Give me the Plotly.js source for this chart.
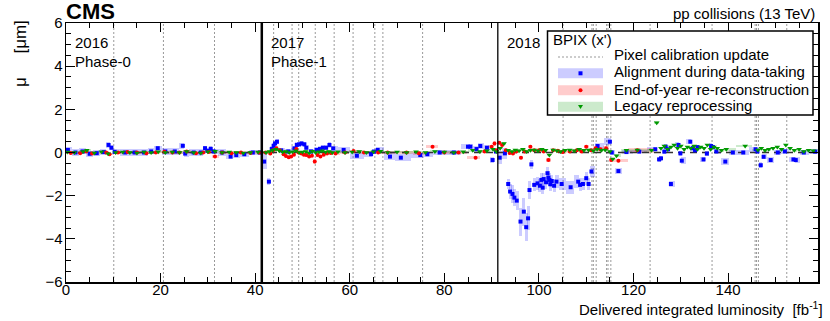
<!DOCTYPE html>
<html>
<head>
<meta charset="utf-8">
<script src="https://cdn.plot.ly/plotly-3.0.1.min.js"></script>
<style>
  html, body { margin: 0; padding: 0; background: #fff; }
  #plot { width: 830px; height: 321px; }
</style>
</head>
<body>
<div id="plot"></div>
<script>
// Year boundaries in delivered luminosity (fb^-1) and their labels
const yearEdges = [0, 41.4, 91.3, 159];
const yearNames = ['2016', '2017', '2018'];
const phaseNames = ['Phase-0', 'Phase-1', ''];

// Pixel calibration updates (fb^-1)
const calibUpdates = [10.1, 20.6, 31.4, 43.9, 47.8, 49.2, 52.7, 56.7, 60.7, 65.3, 67.0, 75.4,
  105.1, 111.2, 111.5, 112.1, 114.3, 114.6, 115.2, 123.5, 136.6, 145.7, 146.0, 146.4, 152.4];

// Alignment during data-taking (blue)
const alignLumi = [
  0.4, 2.0, 3.5, 5.0, 6.5, 8.0, 9.0, 9.6, 10.3, 12.5, 14.5, 16.5, 18.0, 19.4, 21.0, 23.0, 24.7, 25.2,
  27.0, 28.5, 29.4, 29.9, 30.6, 31.2, 33.0, 34.8, 36.0, 37.7, 39.5, 41.0,
  41.9, 42.9, 43.5, 43.9, 44.2, 44.6, 45.5, 47.0, 48.3, 48.8, 49.3, 49.8, 50.4, 50.8, 51.8, 53.0, 53.7,
  54.3, 55.0, 55.7, 56.5, 58.7, 61.5, 64.5, 65.1, 65.9, 68.5, 70.8, 74.9, 76.4, 79.0, 82.0, 85.0, 85.5,
  86.8, 87.6, 89.0, 90.2, 90.9,
  91.7, 92.8, 93.5, 93.9, 94.4, 94.8, 95.3, 96.1, 96.8, 97.3, 97.7, 98.0, 98.4, 99.0, 99.7, 100.2,
  100.5, 100.8, 101.0, 101.5, 101.8, 102.0, 102.2, 102.4, 102.7, 103.2, 103.7, 104.8, 106.7, 108.3,
  108.7, 109.3, 110.0, 110.5, 111.1, 112.4, 115.0, 115.4, 116.8, 118.5, 121.2, 124.6, 125.4, 125.8, 126.5,
  126.8, 127.3, 127.9, 129.5, 129.9, 130.2, 132.0, 132.5, 133.0, 133.5, 134.8, 135.5, 136.4, 136.8,
  137.5, 139.4, 141.0, 143.2, 145.8, 146.2, 146.9, 147.5, 149.0, 150.5, 152.0, 153.8, 154.3, 156.0, 158.4];
const alignMu = [
  0.12, 0.0, 0.05, -0.06, -0.03, 0.02, 0.35, 0.22, 0.03, 0.0, 0.0, 0.0, 0.05, 0.2, 0.05, 0.05, 0.31, -0.05,
  0.0, 0.0, 0.2, 0.08, 0.17, 0.05, 0.0, -0.19, -0.12, -0.08, 0.0, 0.0,
  -0.42, -1.35, 0.16, 0.31, 0.42, 0.5, 0.1, 0.05, 0.19, 0.35, 0.38, 0.42, 0.38, 0.22, 0.05, 0.12, 0.16,
  0.22, 0.22, 0.35, 0.19, 0.12, -0.15, -0.08, 0.04, 0.12, -0.19, -0.24, -0.12, -0.08, 0.0, 0.0, 0.27, 0.27,
  0.16, 0.3, 0.22, -0.35, 0.05,
  -0.24, -0.04, -1.46, -1.81, -1.92, -2.09, -2.23, -3.2, -2.74, -3.46, -3.05, -1.74, -0.55, -1.5, -1.43, -1.54,
  -1.27, -1.63, -1.23, -1.38, -0.96, -1.17, -1.27, -1.47, -1.32, -1.54, -1.35, -1.46, -1.61, -1.35,
  -1.5, -1.46, -1.19, -1.46, -0.88, 0.3, 0.5, 0.0, -0.86, 0.02, 0.04, 0.15, -0.32, -0.27, 0.04,
  0.27, 0.15, -1.46, 0.35, -0.04, -0.38, 0.5, 0.2, 0.1, 0.25, -0.32, -0.05, 0.3, 0.25,
  0.05, -0.42, 0.0, 0.0, 0.15, 0.05, -0.59, -0.2, -0.35, 0.0, 0.05, -0.32, -0.35, 0.0, 0.04];
const alignErr = [
  0.15, 0.14, 0.14, 0.15, 0.14, 0.14, 0.12, 0.12, 0.12, 0.14, 0.14, 0.14, 0.14, 0.12, 0.15, 0.15, 0.15, 0.15,
  0.14, 0.14, 0.12, 0.12, 0.12, 0.12, 0.14, 0.12, 0.12, 0.12, 0.1, 0.1,
  0.35, 0.15, 0.12, 0.12, 0.12, 0.12, 0.12, 0.12, 0.12, 0.12, 0.12, 0.12, 0.12, 0.12, 0.12, 0.12, 0.12,
  0.12, 0.12, 0.12, 0.12, 0.12, 0.15, 0.15, 0.12, 0.12, 0.15, 0.15, 0.12, 0.12, 0.1, 0.1, 0.12, 0.12,
  0.12, 0.12, 0.12, 0.15, 0.12,
  0.3, 0.25, 0.25, 0.35, 0.4, 0.4, 0.45, 0.65, 0.65, 0.65, 0.55, 0.4, 0.2, 0.3, 0.3, 0.3,
  0.3, 0.3, 0.3, 0.3, 0.3, 0.3, 0.3, 0.3, 0.3, 0.3, 0.3, 0.3, 0.3, 0.3,
  0.3, 0.3, 0.3, 0.3, 0.25, 0.15, 0.15, 0.12, 0.15, 0.08, 0.08, 0.1, 0.12, 0.12, 0.12,
  0.12, 0.12, 0.15, 0.12, 0.12, 0.15, 0.12, 0.12, 0.12, 0.12, 0.12, 0.12, 0.12, 0.12,
  0.12, 0.15, 0.1, 0.1, 0.12, 0.12, 0.15, 0.12, 0.12, 0.1, 0.1, 0.12, 0.12, 0.1, 0.1];
const alignEnd = [41.4, 91.3, 159];

// End-of-year re-reconstruction (red)
const rerecoLumi = [
  1.0, 3.0, 4.3, 5.5, 8.5, 9.2, 11.0, 13.0, 15.0, 17.0, 19.0, 20.8, 22.5, 24.0, 25.5, 27.5, 29.0, 30.2,
  31.5, 33.0, 35.0, 37.0, 39.0, 40.8,
  42.2, 43.2, 43.8, 44.5, 45.2, 46.0, 46.5, 47.1, 47.6, 48.2, 48.7, 49.2, 49.8, 50.3, 50.8, 51.4, 52.0,
  52.6, 53.2, 53.8, 54.5, 55.2, 56.0, 57.0, 59.0, 60.8, 63.0, 66.0, 68.0, 72.0, 74.6, 77.5, 80.0, 83.0,
  86.6, 88.5, 90.0, 90.6, 91.0,
  91.6, 92.2, 93.0, 93.8, 94.5, 95.2, 96.2, 97.0, 98.2, 99.0, 100.0, 101.0, 102.0, 103.0, 104.0, 105.0,
  106.5, 108.0, 109.0, 110.0, 111.0, 112.0, 113.0, 114.2, 115.3, 116.8, 120.8];
const rerecoMu = [
  -0.02, -0.04, 0.05, -0.05, 0.0, -0.08, 0.0, 0.02, 0.0, -0.03, 0.0, 0.03, 0.0, 0.0, 0.05, -0.03, 0.0, 0.02,
  -0.19, 0.0, -0.03, 0.0, -0.02, 0.0,
  0.0, -0.05, 0.1, 0.2, 0.1, -0.08, -0.16, -0.22, -0.19, -0.1, 0.16, 0.0, -0.05, -0.1, -0.12, -0.19, -0.15,
  -0.42, -0.12, -0.18, -0.1, -0.05, -0.02, -0.05, 0.0, 0.07, 0.0, 0.0, 0.0, 0.0, -0.04, 0.27, 0.0, 0.0,
  -0.24, 0.05, 0.27, 0.42, 0.1,
  0.45, 0.35, 0.1, -0.02, -0.05, 0.05, -0.24, 0.05, 0.27, 0.1, 0.1, 0.05, -0.35, 0.1, 0.08, 0.02,
  0.05, 0.1, 0.05, 0.27, 0.1, 0.2, 0.15, 0.2, -0.35, -0.38, 0.1];
const rerecoErr = [
  0.05, 0.05, 0.05, 0.05, 0.05, 0.05, 0.05, 0.05, 0.05, 0.05, 0.05, 0.05, 0.05, 0.05, 0.05, 0.05, 0.05, 0.05,
  0.08, 0.05, 0.05, 0.05, 0.05, 0.05,
  0.08, 0.08, 0.08, 0.08, 0.08, 0.08, 0.08, 0.08, 0.08, 0.08, 0.08, 0.08, 0.08, 0.08, 0.08, 0.08, 0.08,
  0.1, 0.08, 0.08, 0.08, 0.08, 0.08, 0.08, 0.06, 0.06, 0.06, 0.06, 0.06, 0.06, 0.06, 0.06, 0.06, 0.06,
  0.06, 0.06, 0.08, 0.1, 0.08,
  0.1, 0.1, 0.08, 0.08, 0.08, 0.08, 0.08, 0.08, 0.08, 0.08, 0.08, 0.08, 0.08, 0.08, 0.08, 0.08,
  0.08, 0.08, 0.08, 0.08, 0.08, 0.1, 0.1, 0.1, 0.08, 0.08, 0.1];
const rerecoEnd = [41.4, 91.3, 124.3];

// Legacy reprocessing (green)
const legacyLumi = [
  0.3, 1.8, 3.6, 4.4, 6.0, 7.5, 8.9, 10.5, 12.0, 13.5, 15.0, 16.5, 18.0, 19.5, 21.0, 22.5, 24.0, 25.5,
  27.0, 28.5, 30.0, 31.5, 33.0, 34.5, 36.0, 37.5, 39.0, 40.6,
  42.3, 43.0, 43.7, 44.4, 45.1, 45.8, 46.5, 47.2, 47.9, 48.6, 49.3, 50.0, 50.7, 51.4, 52.1, 52.8, 53.5,
  54.2, 54.9, 55.6, 56.3, 57.5, 59.0, 60.5, 62.0, 63.5, 65.0, 66.5, 68.0, 70.0, 72.0, 74.0, 76.0, 78.0,
  80.0, 82.0, 84.0, 86.0, 87.5, 89.0, 90.3, 91.0,
  91.8, 92.6, 93.5, 94.3, 95.0, 95.8, 96.6, 97.4, 98.2, 99.0, 99.8, 100.6, 101.4, 102.2, 103.0, 103.8,
  104.6, 105.5, 106.5, 107.5, 108.5, 109.5, 110.5, 111.5, 112.3, 113.2, 114.0, 115.0, 115.6, 116.4,
  118.5, 120.8, 123.8, 124.9, 125.8, 126.5, 127.2, 127.9, 128.6, 129.3, 130.0, 130.7, 131.4, 132.1,
  132.8, 133.5, 134.2, 134.9, 135.6, 136.3, 137.0, 137.7, 138.6, 139.6, 143.6, 146.3, 147.0, 147.8,
  148.6, 149.5, 150.4, 151.3, 152.2, 153.1, 154.0, 155.0, 156.0, 157.0, 158.0];
const legacyMu = [
  0.02, 0.0, 0.05, 0.1, -0.02, 0.03, -0.06, 0.0, 0.02, 0.0, -0.02, 0.02, 0.0, 0.03, 0.0, 0.02, 0.0, 0.05,
  0.0, -0.02, 0.03, 0.06, 0.0, 0.02, 0.0, -0.02, 0.0, 0.02,
  0.0, 0.05, 0.1, 0.15, 0.08, 0.02, 0.05, 0.0, 0.03, 0.08, 0.0, 0.02, 0.05, -0.02, 0.06, 0.0, 0.04,
  0.08, 0.02, 0.05, 0.0, 0.03, 0.0, 0.02, 0.05, 0.0, 0.03, 0.06, 0.0, 0.02, 0.0, 0.03, 0.0, 0.05,
  0.02, 0.0, 0.03, 0.1, 0.05, 0.08, 0.15, 0.05,
  0.2, 0.42, 0.1, 0.05, 0.12, 0.08, 0.15, 0.05, 0.1, 0.12, 0.08, 0.15, 0.1, -0.12, 0.12, 0.08,
  0.05, 0.1, 0.12, 0.08, 0.15, 0.1, 0.12, 0.08, 0.15, 0.1, 0.12, 0.05, -0.3, -0.15,
  0.1, 0.12, 0.1, 1.38, 0.2, 0.3, 0.15, 0.25, 0.35, 0.2, 0.3, 0.15, 0.25, 0.2,
  0.3, 0.15, 0.25, 0.2, 0.35, 0.15, 0.25, 0.2, 0.1, 0.15, 0.3, 0.12, 0.2, 0.1,
  0.15, 0.2, 0.25, 0.15, 0.35, 0.2, 0.1, 0.15, 0.05, 0.1, 0.08];
const legacyErr = legacyMu.map(() => 0.06);
const legacyEnd = [41.4, 91.3, 159];

// Ideal value
const idealLumi = [0, 159];
const idealMu = [0, 0];

// ---- helpers ----
const W = 830, H = 321;
const M = { l: 66, r: 12, t: 23, b: 39 };
const px = v => (v - M.l) / (W - M.l - M.r);          // pixel x -> paper
const py = v => (H - M.b - v) / (H - M.t - M.b);       // pixel y -> paper
const NB = '\u00a0';

// bands span each IOV: half way to the neighbouring points, clipped to the year
function bands(lumi, mu, err, ends, minW) {
  const yearOf = x => yearEdges.findIndex((e, k) => x >= e && x < yearEdges[k + 1]);
  const cx = [], w = [], base = [], h = [];
  lumi.forEach((x, i) => {
    const k = yearOf(x);
    const lo = yearEdges[k], hi = ends[k];
    let left = (i > 0 && yearOf(lumi[i - 1]) === k) ? (lumi[i - 1] + x) / 2 : lo;
    let right = (i < lumi.length - 1 && yearOf(lumi[i + 1]) === k) ? Math.min((lumi[i + 1] + x) / 2, hi) : hi;
    if (right - left < minW) {
      left = Math.max(lo, x - minW / 2);
      right = Math.min(hi, x + minW / 2);
    }
    cx.push((left + right) / 2);
    w.push(right - left);
    base.push(mu[i] - err[i]);
    h.push(2 * err[i]);
  });
  return { cx, w, base, h };
}

function bandTrace(b, color) {
  return {
    type: 'bar', x: b.cx, y: b.h, base: b.base, width: b.w,
    marker: { color: color, line: { width: 0 } },
    hoverinfo: 'skip', showlegend: false
  };
}

const blueBand = 'rgba(0,0,255,0.2)';
const redBand = 'rgba(255,0,0,0.2)';
const greenBand = 'rgba(0,150,0,0.2)';

const traces = [
  bandTrace(bands(alignLumi, alignMu, alignErr, alignEnd, 0.6), blueBand),
  bandTrace(bands(rerecoLumi, rerecoMu, rerecoErr, rerecoEnd, 0.6), redBand),
  bandTrace(bands(legacyLumi, legacyMu, legacyErr, legacyEnd, 0.6), greenBand),
  {
    type: 'scatter', mode: 'lines', x: idealLumi, y: idealMu,
    line: { color: '#333', width: 1.6, dash: '7px,5px' }, hoverinfo: 'skip', showlegend: false
  },
  {
    type: 'scatter', mode: 'markers', x: alignLumi, y: alignMu,
    marker: { symbol: 'square', size: 4, color: '#0000ff' }, showlegend: false
  },
  {
    type: 'scatter', mode: 'markers', x: rerecoLumi, y: rerecoMu,
    marker: { symbol: 'circle', size: 4, color: '#ff0000' }, showlegend: false
  },
  {
    type: 'scatter', mode: 'markers', x: legacyLumi, y: legacyMu,
    marker: { symbol: 'triangle-down', size: 5, color: '#009900' }, showlegend: false
  }
];

// vertical lines
const shapes = calibUpdates.map(x => ({
  type: 'line', xref: 'x', yref: 'paper', x0: x, x1: x, y0: 0, y1: 1, layer: 'below',
  line: { color: '#999', width: 1, dash: '2px,2px' }
}));
shapes.push({ type: 'line', xref: 'x', yref: 'paper', x0: yearEdges[1], x1: yearEdges[1], y0: 0, y1: 1,
  line: { color: '#000', width: 2.5 } });
shapes.push({ type: 'line', xref: 'x', yref: 'paper', x0: yearEdges[2], x1: yearEdges[2], y0: 0, y1: 1,
  line: { color: '#000', width: 1.3 } });

// legend drawn by hand
const legX0 = 547.5, legX1 = 813, legY0 = 31, legY1 = 115;
const swX0 = 558, swX1 = 603, swMid = 580.5;
shapes.push({ type: 'rect', xref: 'paper', yref: 'paper', x0: px(legX0), x1: px(legX1), y0: py(legY1), y1: py(legY0),
  fillcolor: '#fff', line: { color: '#000', width: 1.5 } });
shapes.push({ type: 'line', xref: 'paper', yref: 'paper', x0: px(swX0), x1: px(swX1), y0: py(57), y1: py(57),
  line: { color: '#999', width: 1, dash: '2px,2px' } });
[[73.3, blueBand], [90.3, redBand], [106.7, greenBand]].forEach(([yc, col]) => {
  shapes.push({ type: 'rect', xref: 'paper', yref: 'paper', x0: px(swX0), x1: px(swX1),
    y0: py(yc + 5), y1: py(yc - 5), fillcolor: col, line: { width: 0 } });
});
shapes.push({ type: 'rect', xref: 'paper', yref: 'paper', x0: px(swMid - 2), x1: px(swMid + 2),
  y0: py(73.3 + 2), y1: py(73.3 - 2), fillcolor: '#0000ff', line: { width: 0 } });
shapes.push({ type: 'circle', xref: 'paper', yref: 'paper', x0: px(swMid - 2), x1: px(swMid + 2),
  y0: py(90.3 + 2), y1: py(90.3 - 2), fillcolor: '#ff0000', line: { width: 0 } });
shapes.push({ type: 'path', xref: 'paper', yref: 'paper',
  path: `M ${px(swMid - 2.5)},${py(105)} L ${px(swMid + 2.5)},${py(105)} L ${px(swMid)},${py(109)} Z`,
  fillcolor: '#009900', line: { width: 0 } });

const font = { family: 'Liberation Sans, Arial, Helvetica, sans-serif', size: 15, color: '#000' };
const legendNames = ['Pixel calibration update', 'Alignment during data-taking',
  'End-of-year re-reconstruction', 'Legacy reprocessing'];
const legendRows = [55, 72, 89, 105.5];

const annotations = [
  { text: '<b>CMS</b>', xref: 'paper', yref: 'paper', x: px(64), y: py(11.5), xanchor: 'left', yanchor: 'middle',
    showarrow: false, font: { ...font, size: 22 } },
  { text: 'pp collisions (13 TeV)', xref: 'paper', yref: 'paper', x: px(817), y: py(13), xanchor: 'right',
    yanchor: 'middle', showarrow: false, font },
  { text: 'BPIX (x\')', xref: 'paper', yref: 'paper', x: px(551), y: py(39), xanchor: 'left',
    yanchor: 'middle', showarrow: false, font },
  { text: 'Delivered integrated luminosity' + NB + NB + '[fb<sup>-1</sup>]', xref: 'paper', yref: 'paper',
    x: px(825), y: py(308), xanchor: 'right', yanchor: 'middle', showarrow: false, font },
  { text: 'μ' + NB.repeat(5) + '[μm]', xref: 'paper', yref: 'paper', x: px(20), y: py(54), xanchor: 'center',
    yanchor: 'middle', textangle: -90, showarrow: false, font: { ...font, size: 17 } }
];
legendNames.forEach((t, i) => annotations.push({
  text: t, xref: 'paper', yref: 'paper', x: px(612), y: py(legendRows[i]), xanchor: 'left',
  yanchor: 'middle', showarrow: false, font
}));
yearNames.forEach((t, k) => annotations.push({
  text: t, xref: 'x', yref: 'paper', x: yearEdges[k] + 1.5, y: py(43), xanchor: 'left', yanchor: 'middle',
  showarrow: false, font
}));
phaseNames.forEach((t, k) => { if (t) annotations.push({
  text: t, xref: 'x', yref: 'paper', x: yearEdges[k] + 1.5, y: py(61), xanchor: 'left', yanchor: 'middle',
  showarrow: false, font
}); });

const axisCommon = {
  showgrid: false, zeroline: false, showline: true, linecolor: '#000', linewidth: 1.5,
  mirror: 'allticks', ticks: 'inside', ticklen: 9, tickwidth: 1, tickcolor: '#000',
  tickfont: font, fixedrange: true
};

const layout = {
  width: W, height: H,
  margin: M,
  paper_bgcolor: '#fff', plot_bgcolor: '#fff',
  barmode: 'overlay', bargap: 0,
  font,
  showlegend: false,
  xaxis: { ...axisCommon, range: [0, 159], tick0: 0, dtick: 20, ticklabelstandoff: -7,
    minor: { dtick: 5, ticklen: 5, tickcolor: '#000', ticks: 'inside' } },
  yaxis: { ...axisCommon, range: [-6, 6], tick0: 0, dtick: 2, ticklabelstandoff: -1,
    minor: { dtick: 0.5, ticklen: 5, tickcolor: '#000', ticks: 'inside' } },
  shapes, annotations
};

Plotly.newPlot('plot', traces, layout, { displayModeBar: false, staticPlot: true });
</script>
</body>
</html>
